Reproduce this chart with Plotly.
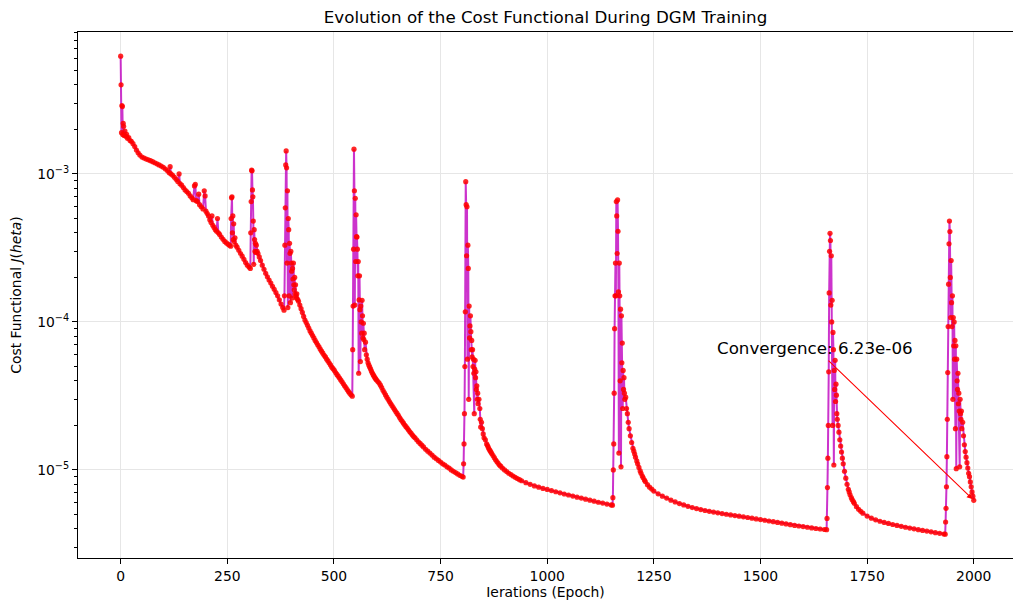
import math
import plotly.graph_objects as go

# (epoch, cost) readings for each training phase; each phase starts with a restart spike
phase_warmup = [
    (0, 6.25e-3), (1, 4.0e-3), (2, 1.9e-3), (3, 2.9e-3), (4, 2.85e-3), (5, 1.85e-3),
    (6, 2.2e-3), (7, 2.1e-3), (8, 1.82e-3), (10, 1.95e-3), (12, 1.8e-3), (14, 1.85e-3),
    (16, 1.74e-3), (19, 1.76e-3), (22, 1.68e-3), (25, 1.66e-3), (29, 1.6e-3), (33, 1.53e-3),
    (37, 1.45e-3), (41, 1.39e-3), (45, 1.34e-3), (50, 1.3e-3), (55, 1.28e-3), (60, 1.26e-3),
    (65, 1.245e-3), (70, 1.23e-3), (75, 1.21e-3), (80, 1.19e-3), (85, 1.17e-3), (90, 1.15e-3),
    (95, 1.13e-3), (100, 1.11e-3), (105, 1.08e-3), (110, 1.05e-3), (114, 1.02e-3), (116, 1.12e-3),
    (118, 1.0e-3), (122, 9.8e-4), (126, 9.5e-4), (130, 9.2e-4), (134, 8.9e-4), (137, 1.0e-3),
    (139, 8.6e-4), (143, 8.4e-4), (147, 8.1e-4), (151, 7.8e-4), (155, 7.6e-4), (159, 7.4e-4),
    (163, 7.1e-4), (167, 6.9e-4), (170, 6.7e-4), (173, 8.3e-4), (175, 8.5e-4), (177, 6.6e-4),
    (180, 6.5e-4), (183, 7.3e-4), (185, 6.2e-4), (189, 6.0e-4), (193, 5.8e-4), (196, 7.7e-4),
    (198, 7.1e-4), (200, 5.6e-4), (203, 5.4e-4), (206, 5.2e-4), (209, 4.9e-4), (212, 4.7e-4),
    (214, 5.2e-4), (216, 4.5e-4), (219, 4.35e-4), (222, 4.2e-4), (225, 4.1e-4), (227, 5.0e-4),
    (229, 4.0e-4), (232, 3.9e-4), (236, 3.75e-4), (240, 3.62e-4), (244, 3.5e-4), (248, 3.42e-4),
    (252, 3.35e-4), (255, 3.3e-4), (258, 3.25e-4), (259, 5.0e-4), (260, 6.9e-4), (261, 7.0e-4),
    (262, 4.0e-4), (263, 5.2e-4), (264, 3.6e-4), (265, 4.6e-4), (266, 3.5e-4), (268, 3.7e-4),
    (270, 3.3e-4), (273, 3.2e-4), (277, 3.05e-4), (281, 2.9e-4), (285, 2.78e-4), (289, 2.65e-4),
    (293, 2.52e-4), (297, 2.42e-4), (301, 2.35e-4), (304, 2.3e-4),
]

phase_2 = [
    (305, 4.0e-4), (306, 6.5e-4), (307, 1.06e-3), (308, 1.05e-3), (309, 7.8e-4), (310, 7.0e-4),
    (311, 4.8e-4), (312, 2.45e-4), (313, 4.2e-4), (314, 3.6e-4), (315, 3.0e-4), (316, 3.4e-4),
    (317, 2.95e-4), (318, 3.3e-4), (320, 3.0e-4), (322, 2.9e-4), (325, 2.75e-4), (328, 2.6e-4),
    (332, 2.42e-4), (336, 2.27e-4), (340, 2.13e-4), (344, 2.02e-4), (348, 1.92e-4), (352, 1.83e-4),
    (356, 1.74e-4), (360, 1.66e-4), (364, 1.58e-4), (368, 1.5e-4), (372, 1.41e-4), (376, 1.32e-4),
    (380, 1.25e-4), (383, 1.2e-4),
]

phase_3 = [
    (384, 1.5e-4), (385, 3.3e-4), (386, 5.9e-4), (387, 1.15e-3), (388, 1.43e-3), (389, 1.1e-3),
    (390, 2.5e-4), (391, 7.7e-4), (392, 1.25e-4), (393, 5.0e-4), (394, 4.2e-4), (395, 1.5e-4),
    (396, 3.4e-4), (397, 2.9e-4), (398, 1.35e-4), (399, 3.0e-4), (400, 2.5e-4), (401, 2.2e-4),
    (402, 1.45e-4), (403, 2.3e-4), (404, 1.95e-4), (405, 2.5e-4), (406, 1.78e-4), (407, 1.65e-4),
    (408, 2.0e-4), (409, 1.55e-4), (410, 1.78e-4), (411, 1.5e-4), (412, 1.45e-4), (413, 1.55e-4),
    (415, 1.42e-4), (417, 1.38e-4), (420, 1.3e-4), (423, 1.23e-4), (426, 1.16e-4), (429, 1.09e-4),
    (432, 1.03e-4), (435, 9.9e-5), (438, 9.5e-5), (441, 9.1e-5), (444, 8.7e-5), (447, 8.4e-5),
    (450, 8.1e-5), (453, 7.8e-5), (456, 7.5e-5), (459, 7.25e-5), (462, 7.0e-5), (465, 6.8e-5),
    (468, 6.55e-5), (471, 6.35e-5), (474, 6.15e-5), (477, 5.95e-5), (480, 5.8e-5), (483, 5.6e-5),
    (486, 5.45e-5), (489, 5.28e-5), (492, 5.12e-5), (495, 4.95e-5), (498, 4.83e-5), (501, 4.7e-5),
    (504, 4.55e-5), (507, 4.42e-5), (510, 4.3e-5), (513, 4.18e-5), (516, 4.06e-5), (519, 3.94e-5),
    (522, 3.82e-5), (525, 3.7e-5), (528, 3.6e-5), (531, 3.49e-5), (534, 3.39e-5), (537, 3.3e-5),
    (540, 3.22e-5), (543, 3.15e-5),
]

phase_4 = [
    (544, 6.5e-5), (545, 1.28e-4), (546, 3.1e-4), (547, 1.47e-3), (548, 7.7e-4), (549, 1.3e-4),
    (550, 6.85e-4), (551, 2.56e-4), (552, 5.3e-4), (553, 3.77e-4), (554, 3.75e-4), (555, 3.1e-4),
    (556, 2.05e-4), (557, 2.56e-4), (558, 4.5e-5), (559, 1.41e-4), (560, 2.05e-4), (561, 1.21e-4),
    (562, 5.4e-5), (563, 1.28e-4), (564, 1.0e-4), (565, 8.4e-5), (566, 1.4e-4), (567, 1.1e-4),
    (568, 7.8e-5), (569, 9.8e-5), (570, 7.6e-5), (571, 8.4e-5), (572, 6.5e-5), (574, 7.3e-5),
    (576, 6.0e-5), (578, 5.6e-5), (580, 5.3e-5), (582, 5.1e-5), (584, 4.95e-5), (586, 4.8e-5),
    (588, 4.65e-5), (590, 4.52e-5), (592, 4.4e-5), (594, 4.3e-5), (596, 4.2e-5), (598, 4.12e-5),
    (600, 4.05e-5), (603, 3.96e-5), (606, 3.86e-5), (609, 3.74e-5), (612, 3.6e-5), (615, 3.45e-5),
    (618, 3.33e-5), (621, 3.21e-5), (624, 3.1e-5), (627, 3.0e-5), (630, 2.9e-5), (633, 2.81e-5),
    (636, 2.72e-5), (639, 2.64e-5), (642, 2.56e-5), (645, 2.48e-5), (648, 2.41e-5), (651, 2.34e-5),
    (654, 2.26e-5), (657, 2.19e-5), (660, 2.13e-5), (663, 2.07e-5), (666, 2.01e-5), (669, 1.96e-5),
    (672, 1.91e-5), (675, 1.86e-5), (678, 1.81e-5), (681, 1.77e-5), (684, 1.72e-5), (687, 1.68e-5),
    (690, 1.65e-5), (694, 1.6e-5), (698, 1.55e-5), (702, 1.51e-5), (706, 1.47e-5), (710, 1.43e-5),
    (715, 1.38e-5), (720, 1.34e-5), (725, 1.3e-5), (730, 1.26e-5), (735, 1.22e-5), (740, 1.19e-5),
    (745, 1.16e-5), (750, 1.13e-5), (755, 1.1e-5), (760, 1.08e-5), (765, 1.05e-5), (770, 1.03e-5),
    (775, 1.0e-5), (780, 9.8e-6), (785, 9.6e-6), (790, 9.4e-6), (795, 9.2e-6), (800, 9.05e-6),
    (803, 8.95e-6),
]

phase_5 = [
    (804, 1.1e-5), (805, 1.5e-5), (806, 2.4e-5), (807, 5.0e-5), (808, 1.17e-4), (809, 8.87e-4),
    (810, 6.2e-4), (811, 2.8e-4), (812, 6.0e-4), (813, 5.6e-5), (814, 3.3e-4), (815, 2.3e-4),
    (816, 3.0e-5), (817, 1.28e-4), (818, 7.8e-5), (819, 9.4e-5), (820, 1.1e-4), (821, 8.6e-5),
    (822, 6.5e-5), (823, 7.5e-5), (824, 5.8e-5), (825, 6.5e-5), (826, 5.0e-5), (827, 5.6e-5),
    (828, 4.5e-5), (829, 2.4e-5), (830, 4.8e-5), (831, 5.5e-5), (832, 4.2e-5), (833, 4.6e-5),
    (834, 3.5e-5), (835, 3.7e-5), (836, 3.0e-5), (837, 3.3e-5), (838, 2.8e-5), (840, 3.0e-5),
    (842, 2.6e-5), (843, 2.2e-5), (844, 1.95e-5), (846, 2.1e-5), (848, 1.9e-5), (850, 1.75e-5),
    (852, 1.65e-5), (855, 1.6e-5), (858, 1.5e-5), (860, 1.46e-5), (862, 1.42e-5), (864, 1.38e-5),
    (866, 1.35e-5), (868, 1.32e-5), (870, 1.29e-5), (873, 1.25e-5), (876, 1.21e-5), (879, 1.17e-5),
    (882, 1.14e-5), (885, 1.11e-5), (888, 1.08e-5), (891, 1.06e-5), (895, 1.03e-5), (900, 1.0e-5),
    (905, 9.75e-6), (910, 9.5e-6), (915, 9.3e-6), (920, 9.1e-6), (925, 8.92e-6), (930, 8.75e-6),
    (935, 8.6e-6), (940, 8.45e-6), (950, 8.2e-6), (960, 8.0e-6),
    (970, 7.8e-6), (980, 7.65e-6), (990, 7.5e-6), (1000, 7.38e-6), (1010, 7.25e-6), (1020, 7.12e-6),
    (1030, 7.0e-6), (1040, 6.88e-6), (1050, 6.77e-6), (1060, 6.66e-6), (1070, 6.55e-6),
    (1080, 6.45e-6), (1090, 6.35e-6), (1100, 6.25e-6), (1110, 6.15e-6), (1120, 6.05e-6),
    (1130, 5.97e-6), (1140, 5.88e-6), (1150, 5.8e-6), (1153, 5.78e-6),
]

phase_6 = [
    (1154, 6.5e-6), (1155, 1.0e-5), (1156, 1.5e-5), (1157, 3.3e-5), (1158, 9.0e-5), (1159, 1.5e-4),
    (1160, 2.5e-4), (1161, 1.5e-4), (1162, 6.5e-4), (1163, 5.2e-4), (1164, 2.9e-4), (1165, 6.67e-4),
    (1166, 4.1e-4), (1167, 1.6e-4), (1168, 1.3e-5), (1169, 2.5e-4), (1170, 1.5e-4), (1171, 4.0e-5),
    (1172, 1.22e-4), (1173, 1.05e-5), (1174, 1.1e-4), (1175, 5.3e-5), (1176, 7.2e-5), (1177, 2.6e-5),
    (1178, 4.7e-5), (1179, 3.5e-5), (1180, 4.2e-5), (1181, 3.3e-5), (1182, 3.0e-5), (1184, 3.1e-5),
    (1186, 2.6e-5), (1188, 2.4e-5), (1190, 2.1e-5), (1192, 1.9e-5), (1195, 1.7e-5), (1198, 1.53e-5),
    (1201, 1.4e-5), (1203, 1.34e-5), (1205, 1.28e-5), (1207, 1.22e-5), (1210, 1.15e-5),
    (1212, 1.1e-5), (1215, 1.04e-5), (1218, 9.85e-6), (1220, 9.5e-6), (1223, 9.1e-6),
    (1225, 8.85e-6), (1228, 8.55e-6), (1230, 8.35e-6), (1235, 7.95e-6), (1240, 7.65e-6),
    (1245, 7.42e-6), (1250, 7.2e-6),
    (1260, 6.9e-6), (1270, 6.65e-6), (1280, 6.45e-6), (1290, 6.25e-6), (1300, 6.08e-6),
    (1310, 5.93e-6), (1320, 5.8e-6), (1330, 5.68e-6), (1340, 5.57e-6), (1350, 5.48e-6),
    (1360, 5.4e-6), (1370, 5.32e-6), (1380, 5.25e-6), (1390, 5.19e-6), (1400, 5.13e-6),
    (1410, 5.07e-6), (1420, 5.02e-6), (1430, 4.97e-6), (1440, 4.92e-6), (1450, 4.87e-6),
    (1460, 4.82e-6), (1470, 4.77e-6), (1480, 4.72e-6), (1490, 4.67e-6), (1500, 4.62e-6),
    (1510, 4.57e-6), (1520, 4.52e-6), (1530, 4.47e-6), (1540, 4.42e-6), (1550, 4.37e-6),
    (1560, 4.32e-6), (1570, 4.27e-6), (1580, 4.22e-6), (1590, 4.18e-6), (1600, 4.14e-6),
    (1610, 4.1e-6), (1620, 4.06e-6), (1630, 4.02e-6), (1640, 3.99e-6), (1650, 3.96e-6),
    (1655, 3.95e-6),
]

phase_7 = [
    (1656, 4.7e-6), (1657, 7.6e-6), (1658, 1.2e-5), (1659, 2.0e-5), (1660, 4.6e-5), (1661, 1.57e-4),
    (1662, 3.0e-4), (1663, 3.97e-4), (1664, 3.55e-4), (1665, 1.3e-4), (1666, 2.8e-4), (1667, 1.0e-4),
    (1668, 1.4e-4), (1669, 2.0e-5), (1670, 8.5e-5), (1671, 6.5e-5), (1672, 1.08e-5), (1673, 4.7e-5),
    (1674, 3.5e-5), (1675, 5.5e-5), (1676, 2.9e-5), (1677, 3.8e-5), (1678, 3.2e-5), (1679, 2.4e-5),
    (1680, 2.2e-5), (1682, 2.0e-5), (1684, 1.8e-5), (1686, 1.6e-5), (1688, 1.45e-5), (1690, 1.32e-5),
    (1692, 1.2e-5), (1694, 1.1e-5), (1697, 9.8e-6), (1700, 8.8e-6), (1703, 8.0e-6), (1706, 7.4e-6),
    (1708, 7.1e-6), (1710, 6.8e-6), (1713, 6.5e-6), (1715, 6.3e-6), (1718, 6.1e-6), (1720, 5.95e-6),
    (1725, 5.65e-6), (1730, 5.42e-6), (1735, 5.25e-6),
    (1740, 5.1e-6), (1750, 4.88e-6), (1760, 4.72e-6), (1770, 4.6e-6), (1780, 4.5e-6),
    (1790, 4.42e-6), (1800, 4.35e-6), (1810, 4.28e-6), (1820, 4.22e-6), (1830, 4.16e-6),
    (1840, 4.1e-6), (1850, 4.05e-6), (1860, 4.0e-6), (1870, 3.95e-6), (1880, 3.9e-6),
    (1890, 3.86e-6), (1900, 3.82e-6), (1910, 3.77e-6), (1920, 3.73e-6), (1930, 3.69e-6),
    (1933, 3.68e-6),
]

phase_final = [
    (1934, 4.45e-6), (1935, 5.5e-6), (1936, 7.7e-6), (1937, 1.23e-5), (1938, 2.2e-5), (1939, 4.55e-5),
    (1940, 9.3e-5), (1941, 1.8e-4), (1942, 3.37e-4), (1943, 4.8e-4), (1944, 4.08e-4), (1945, 2.0e-4),
    (1946, 1.07e-4), (1947, 2.6e-4), (1948, 1.35e-4), (1949, 9.3e-5), (1950, 1.5e-4), (1951, 3.0e-5),
    (1952, 1.07e-4), (1953, 6.9e-5), (1954, 1.0e-4), (1955, 5.6e-5), (1956, 7.5e-5), (1957, 1.9e-5),
    (1958, 6.9e-5), (1959, 1.02e-5), (1960, 5.6e-5), (1961, 4.0e-5), (1962, 3.5e-5), (1963, 4.5e-5),
    (1964, 2.8e-5), (1965, 3.3e-5), (1966, 2.5e-5), (1967, 1.05e-5), (1968, 3.0e-5), (1969, 2.4e-5),
    (1970, 2.2e-5), (1971, 2.5e-5), (1972, 1.9e-5), (1974, 2.1e-5), (1976, 1.7e-5), (1978, 1.48e-5),
    (1980, 1.33e-5), (1982, 1.22e-5), (1984, 1.12e-5), (1986, 1.03e-5), (1988, 9.5e-6),
    (1990, 9.0e-6), (1992, 8.3e-6), (1994, 7.7e-6), (1996, 7.1e-6), (1998, 6.65e-6),
    (2000, 6.23e-6),
]

x_ticks = [0, 250, 500, 750, 1000, 1250, 1500, 1750, 2000]
y_ticks = [1e-5, 1e-4, 1e-3]
y_tick_text = ["10<sup>−5</sup>", "10<sup>−4</sup>", "10<sup>−3</sup>"]
y_minor_ticks = [m * 10.0 ** p for p in (-6, -5, -4, -3) for m in range(2, 10)]

phases = [phase_warmup, phase_2, phase_3, phase_4, phase_5, phase_6, phase_7, phase_final]
epochs = [e for ph in phases for e, _ in ph]
costs = [c for ph in phases for _, c in ph]
final_epoch, final_cost = epochs[-1], costs[-1]

FONT = "DejaVu Sans"

fig = go.Figure()
fig.add_trace(go.Scatter(
    x=epochs, y=costs, mode="lines+markers",
    line=dict(color="rgba(191,0,191,0.8)", width=2),
    marker=dict(color="rgba(255,0,0,0.85)", size=5.2, line=dict(width=0)),
    showlegend=False, hoverinfo="x+y",
))

# label the last cost value with an arrow pointing at the final epoch
fig.add_annotation(
    x=final_epoch, y=math.log10(final_cost),
    xref="x", yref="y", axref="x", ayref="y",
    ax=1628, ay=-4.175,
    text=f"Convergence: {final_cost:.2e}",
    font=dict(family=FONT, size=16.7, color="black"),
    showarrow=True, arrowhead=2, arrowsize=1, arrowwidth=1.1,
    arrowcolor="red", standoff=2, startstandoff=2,
)

fig.update_layout(
    width=1013, height=601,
    margin=dict(l=78, r=0, t=32, b=43),
    paper_bgcolor="white", plot_bgcolor="white",
    font=dict(family=FONT, color="black", size=13.9),
    title=dict(
        text="Evolution of the Cost Functional During DGM Training",
        x=0.5, xanchor="center", xref="paper",
        y=1 - 17 / 601, yanchor="middle", yref="container",
        font=dict(family=FONT, size=16.7, color="black"),
    ),
    xaxis=dict(
        range=[-100, 2092], tickvals=x_ticks,
        showline=True, linecolor="black", linewidth=1.1, mirror=True,
        ticks="outside", ticklen=5, tickwidth=1.1, tickcolor="black",
        showgrid=True, gridcolor="#e6e6e6", gridwidth=1.1, zeroline=False,
        tickfont=dict(family=FONT, size=13.9, color="black"),
        title=dict(text="Ierations (Epoch)", standoff=4,
                   font=dict(family=FONT, size=13.9, color="black")),
    ),
    yaxis=dict(
        type="log", range=[-5.595, -2.041],
        tickvals=y_ticks, ticktext=y_tick_text,
        showline=True, linecolor="black", linewidth=1.1, mirror=False,
        ticks="outside", ticklen=5, tickwidth=1.1, tickcolor="black",
        showgrid=True, gridcolor="#e6e6e6", gridwidth=1.1, zeroline=False,
        tickfont=dict(family=FONT, size=13.9, color="black"),
        minor=dict(tickvals=y_minor_ticks, ticks="outside", ticklen=3, tickwidth=0.8,
                   tickcolor="black", showgrid=False),
        title=dict(text="Cost Functional <i>J</i>(<i>heta</i>)", standoff=12,
                   font=dict(family=FONT, size=13.9, color="black")),
    ),
)

fig.write_html("out.html")
